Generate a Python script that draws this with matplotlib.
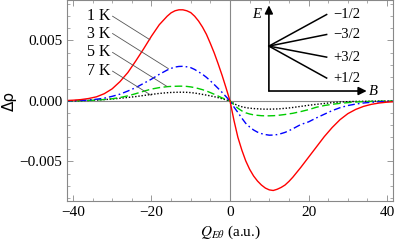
import numpy as np
import matplotlib
matplotlib.use("Agg")
import matplotlib.pyplot as plt
from matplotlib.ticker import MultipleLocator

plt.rcParams['font.family'] = ['Liberation Serif', 'DejaVu Serif']
plt.rcParams['mathtext.fontset'] = 'stix'

# Q_Eθ grid (a.u.): step 2 in the tails, step 1 around the extrema
q = list(range(-42, -16, 2)) + list(range(-16, 17)) + list(range(18, 43, 2))

# Δρ values (x1e-3)
rho_1K = [0.03, 0.06, 0.11, 0.2, 0.34, 0.6, 1.0, 1.6, 2.35, 3.3, 4.3, 5.35, 6.3,
          7.0, 7.28, 7.45, 7.53, 7.53, 7.45, 7.3, 7.0, 6.6, 6.1, 5.5, 4.75, 3.95, 3.05, 2.1, 1.07,
          0.0,
          -1.6, -3.0, -4.05, -4.95, -5.65, -6.2, -6.62, -6.95, -7.2, -7.35, -7.4, -7.3, -7.15,
          -6.95, -6.65, -6.3,
          -5.5, -4.65, -3.8, -2.95, -2.2, -1.55, -1.05, -0.7, -0.45, -0.28, -0.17, -0.1, -0.06]
rho_3K = [0.01, 0.02, 0.04, 0.08, 0.14, 0.23, 0.38, 0.56, 0.82, 1.1, 1.45, 1.8, 2.2,
          2.55, 2.69, 2.8, 2.85, 2.86, 2.82, 2.75, 2.6, 2.4, 2.2, 1.95, 1.66, 1.35, 1.03, 0.7, 0.35,
          0.0,
          -0.5, -0.95, -1.42, -1.85, -2.15, -2.4, -2.58, -2.7, -2.78, -2.83, -2.82, -2.78, -2.7,
          -2.6, -2.46, -2.3,
          -1.95, -1.73, -1.4, -1.1, -0.8, -0.56, -0.38, -0.26, -0.17, -0.11, -0.07, -0.04, -0.03]
rho_5K = [0.0, 0.01, 0.02, 0.04, 0.07, 0.12, 0.18, 0.28, 0.42, 0.6, 0.8, 0.98, 1.1,
          1.18, 1.2, 1.21, 1.22, 1.22, 1.2, 1.16, 1.1, 1.02, 0.93, 0.82, 0.69, 0.55, 0.4, 0.25, 0.12,
          0.0,
          -0.32, -0.6, -0.82, -0.98, -1.08, -1.15, -1.19, -1.22, -1.23, -1.23, -1.22, -1.2, -1.16,
          -1.12, -1.07, -1.02,
          -0.88, -0.72, -0.52, -0.38, -0.28, -0.2, -0.14, -0.09, -0.06, -0.04, -0.02, -0.01, -0.01]
rho_7K = [0.0, 0.01, 0.02, 0.04, 0.07, 0.11, 0.16, 0.22, 0.29, 0.36, 0.45, 0.54, 0.62,
          0.68, 0.7, 0.71, 0.72, 0.72, 0.71, 0.69, 0.65, 0.6, 0.54, 0.48, 0.42, 0.35, 0.27, 0.18, 0.09,
          0.0,
          -0.22, -0.38, -0.48, -0.55, -0.6, -0.63, -0.65, -0.67, -0.68, -0.68, -0.67, -0.66, -0.64,
          -0.61, -0.58, -0.54,
          -0.45, -0.36, -0.28, -0.21, -0.14, -0.09, -0.06, -0.04, -0.03, -0.02, -0.01, -0.01, 0.0]

temp_labels = ['1 K', '3 K', '5 K', '7 K']
level_labels = ['\u22121/2', '\u22123/2', '+3/2', '+1/2']

fig = plt.figure(figsize=(3.95, 2.45), dpi=100)
ax = fig.add_axes([0.1696, 0.181, 0.8254, 0.817])

ax.axhline(0, color='#888888', lw=0.8, zorder=1)
ax.axvline(0, color='#888888', lw=0.8, zorder=1)

ax.plot(q, np.array(rho_7K) * 1e-3, color='black', lw=1.0, dashes=(1.0, 1.3))
ax.plot(q, np.array(rho_5K) * 1e-3, color='#00cc00', lw=1.0, dashes=(5.5, 2.5))
ax.plot(q, np.array(rho_3K) * 1e-3, color='blue', lw=1.0, dashes=(5, 2.2, 1.2, 2.2))
ax.plot(q, np.array(rho_1K) * 1e-3, color='red', lw=1.0)

ax.set_xlim(-41.5, 41.5)
ax.set_ylim(-0.00824, 0.0083)
ax.xaxis.set_major_locator(MultipleLocator(20))
ax.xaxis.set_minor_locator(MultipleLocator(5))
ax.yaxis.set_major_locator(MultipleLocator(0.005))
ax.yaxis.set_minor_locator(MultipleLocator(0.001))
ax.yaxis.set_major_formatter(plt.FuncFormatter(lambda v, p: f'{v:.3f}'.replace('-', '\u2212')))
ax.tick_params(which='both', direction='in', top=True, right=True, color='#888888',
               labelsize=11)
ax.tick_params(which='major', length=4, width=0.6)
ax.tick_params(which='minor', length=2, width=0.5)
for s in ax.spines.values():
    s.set_color('#888888')
    s.set_linewidth(0.8)

ax.set_xlabel(r'$Q_{E\theta}$ (a.u.)', fontsize=11, labelpad=4)
ax.set_ylabel('\u0394\u03c1', fontsize=11, family=['DejaVu Sans'], labelpad=2)

# temperature labels with leader lines
label_y = [0.00700, 0.00557, 0.00401, 0.00246]
leader_end = [(-20.4, 0.00506), (-15.7, 0.00267), (-16.1, 0.00121), (-20.1, 0.00047)]
for lab, ly, (ex, ey) in zip(temp_labels, label_y, leader_end):
    ax.text(-30.4, ly, lab, ha='right', va='center', fontsize=11.5)
    ax.plot([-29.9, ex], [ly, ey], color='#555555', lw=0.6)

# inset energy-level diagram
ax.annotate('', xy=(9.9, 0.0079), xytext=(9.9, 0.00082),
            arrowprops=dict(arrowstyle='-|>', color='black', lw=1.2, mutation_scale=12,
                            shrinkA=0, shrinkB=0))
ax.annotate('', xy=(34.8, 0.00082), xytext=(9.9, 0.00082),
            arrowprops=dict(arrowstyle='-|>', color='black', lw=1.2, mutation_scale=12,
                            shrinkA=0, shrinkB=0))
ax.text(6.8, 0.00714, 'E', style='italic', fontsize=10.5, ha='center', va='center')
ax.text(36.6, 0.00082, 'B', style='italic', fontsize=10.5, ha='center', va='center')
level_y = [0.00714, 0.00549, 0.00362, 0.00189]
for lab, ly in zip(level_labels, level_y):
    ax.plot([9.9, 24.6], [0.00453, ly], color='black', lw=1.1)
    ax.text(26.4, ly, lab, ha='left', va='center', fontsize=10.5)

fig.savefig('out.png', dpi=100)
